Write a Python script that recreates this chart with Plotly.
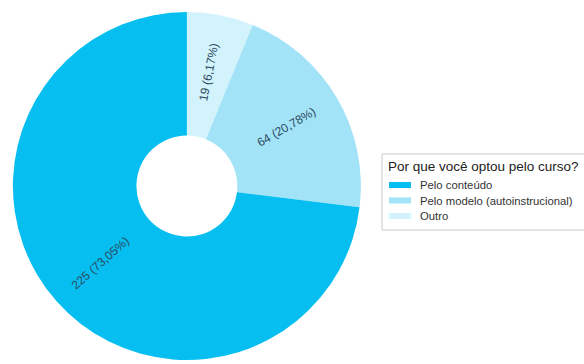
import math
import plotly.graph_objects as go

labels = ["Pelo conteúdo", "Pelo modelo (autoinstrucional)", "Outro"]
values = [225, 64, 19]
colors = ["#06bff0", "#a3e3f8", "#d2f3fc"]
legend_title = "Por que você optou pelo curso?"

W, H = 584, 364
DOM_X = [0.022, 0.618]
DOM_Y = [0.011, 0.967]
HOLE = 0.29
TEXT_COLOR = "#2b4a60"
FONT = "Liberation Sans, Arial, sans-serif"

# drawn clockwise from 12 o'clock in reverse order == reference's
# counter-clockwise layout starting at 12 o'clock
fig = go.Figure(go.Pie(
    labels=labels[::-1],
    values=values[::-1],
    marker=dict(colors=colors[::-1], line=dict(width=0)),
    hole=HOLE,
    sort=False,
    direction="clockwise",
    rotation=0,
    textinfo="none",
    domain=dict(x=DOM_X, y=DOM_Y),
    hoverinfo="label+value+percent",
    showlegend=False,
))


def px(x):
    return x / W


def py(y):
    return 1 - y / H


# radial slice labels (placed from the data's angles)
cx = (DOM_X[0] + DOM_X[1]) / 2 * W
cy = (1 - (DOM_Y[0] + DOM_Y[1]) / 2) * H
R = min((DOM_X[1] - DOM_X[0]) * W, (DOM_Y[1] - DOM_Y[0]) * H) / 2
r_lab = R * 0.665
total = sum(values)
annotations = []
cum = 0
for v in values:
    mid_ccw = (cum + v / 2) / total * 360
    cum += v
    th = 360 - mid_ccw
    x = cx + r_lab * math.sin(math.radians(th))
    y = cy - r_lab * math.cos(math.radians(th))
    ang = th - 90 if th < 180 else th - 270
    txt = f"{v} ({v / total * 100:.2f}%)".replace(".", ",")
    annotations.append(dict(
        x=px(x), y=py(y), xref="paper", yref="paper",
        text=txt, showarrow=False, textangle=ang,
        xanchor="center", yanchor="middle",
        font=dict(family=FONT, size=12, color=TEXT_COLOR),
    ))

# legend box
shapes = [dict(
    type="rect", xref="paper", yref="paper",
    x0=px(382), x1=px(600), y0=py(230), y1=py(154),
    line=dict(color="#c9c9c9", width=1), fillcolor="white", layer="below",
)]
annotations.append(dict(
    x=px(386), y=py(167), xref="paper", yref="paper",
    text=legend_title, showarrow=False, xanchor="left", yanchor="middle",
    font=dict(family=FONT, size=13.5, color="#222"),
))
row_y = [185, 200.5, 216]
for lab, col, ry in zip(labels, colors, row_y):
    shapes.append(dict(
        type="rect", xref="paper", yref="paper",
        x0=px(389), x1=px(411), y0=py(ry + 3), y1=py(ry - 3),
        line=dict(width=0), fillcolor=col,
    ))
    annotations.append(dict(
        x=px(418), y=py(ry), xref="paper", yref="paper",
        text=lab, showarrow=False, xanchor="left", yanchor="middle",
        font=dict(family=FONT, size=11.3, color="#333"),
    ))

fig.update_layout(
    width=W, height=H,
    margin=dict(l=0, r=0, t=0, b=0),
    paper_bgcolor="white",
    font=dict(family=FONT, color="#333"),
    showlegend=False,
    shapes=shapes,
    annotations=annotations,
)

fig.write_html("out.html")
